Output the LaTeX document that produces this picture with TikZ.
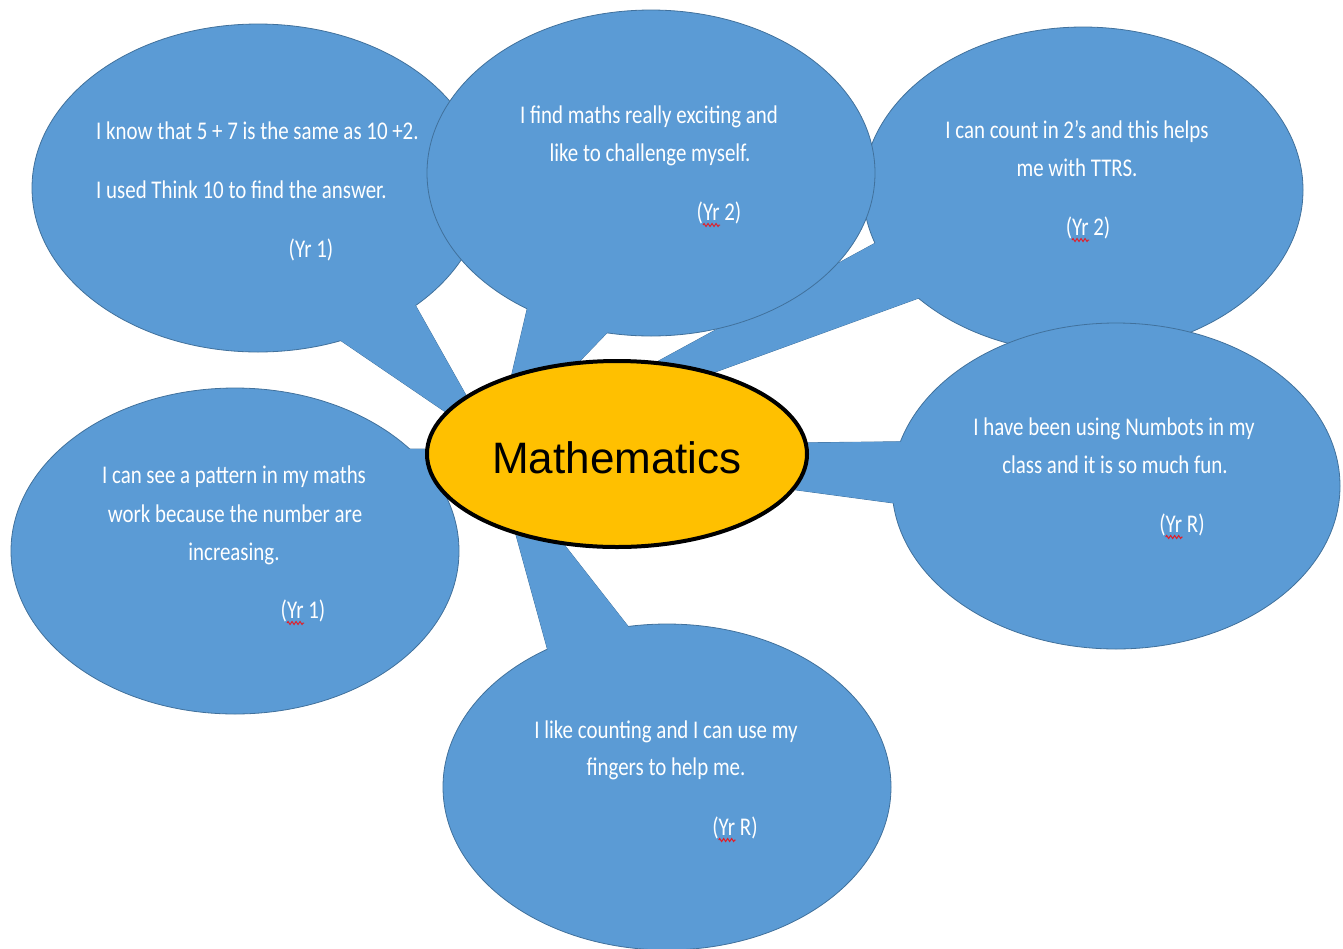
\documentclass[tikz,border=0pt]{standalone}
\usepackage{fontspec}
\usetikzlibrary{shapes.geometric,calc,decorations.pathmorphing}
\newfontfamily\bubfont[FakeStretch=0.82]{Carlito}
\newfontfamily\titfont{Liberation Sans}
\definecolor{bub}{HTML}{5B9BD5}
\definecolor{bubedge}{HTML}{41719C}
\definecolor{gold}{HTML}{FFC000}
\definecolor{squigred}{HTML}{E0202A}
\tikzset{
  bubble/.style={ellipse, fill=bub, draw=bubedge, line width=0.8pt,
    minimum width=448pt, minimum height=326pt, inner sep=0pt},
  tailedge/.style={fill=bub, draw=bubedge, line width=0.8pt, line join=round},
  tailfill/.style={fill=bub},
  txt/.style={text=white, font=\bubfont\fontsize{25.5}{30}\selectfont,
    inner sep=0pt, anchor=base},
  txtl/.style={txt, anchor=base west},
  squig/.style={draw=squigred, line width=1pt, decorate,
    decoration={zigzag, segment length=4pt, amplitude=1.5pt}},
  hub/.style={ellipse, fill=gold, draw=black, line width=4pt,
    minimum width=380pt, minimum height=186pt, inner sep=0pt,
    font=\titfont\fontsize{44}{50}\selectfont, text height=39pt, text depth=0pt}
}
\begin{document}
\begin{tikzpicture}[x=1pt,y=-1pt]
\useasboundingbox (0,0) rectangle (1343,948);

% ---------- top-left bubble ----------
\coordinate (tlA) at (293,308);
\coordinate (tlB) at (391,262);
\coordinate (tlT) at (494,445);
\path[tailedge] (tlA) -- (tlB) -- (tlT) -- cycle;
\node[bubble, minimum width=452pt, minimum height=328pt] (tl) at (258,188) {};
\fill[tailfill] (tlA) -- (tlB) -- (tlT) -- cycle;
\node[txtl] (tl1) at (96,139) {I know that 5 + 7 is the same as 10 +2.};
\node[txtl] (tl2) at (96,198) {I used Think 10 to find the answer.};
\node[txt] (tl3) at (311,257) {(Yr 1)};

% ---------- top-right bubble ----------
\coordinate (trA) at (993,179);
\coordinate (trB) at (1029,258);
\coordinate (trT) at (484,456);
\path[tailedge] (trA) -- (trB) -- (trT) -- cycle;
\node[bubble, minimum width=440pt] (tr) at (1083,190) {};
\fill[tailfill] (trA) -- (trB) -- (trT) -- cycle;
\node[txt] (tr1) at (1077,138) {I can count in 2’s and this helps};
\node[txt] (tr2) at (1077,176) {me with TTRS.};
\node[txt] (tr3) at (1088,235) {(Yr 2)};
\draw[squig] ($(tr3.base west)+(6.5,5)$) -- ++(17,0);

% ---------- top-middle bubble ----------
\coordinate (tmA) at (541,250);
\coordinate (tmB) at (655,283);
\coordinate (tmT) at (494,450);
\path[tailedge] (tmA) -- (tmB) -- (tmT) -- cycle;
\node[bubble] (tm) at (651,173) {};
\fill[tailfill] (tmA) -- (tmB) -- (tmT) -- cycle;
\node[txt] (tm1) at (649,123) {I find maths really exciting and};
\node[txt] (tm2) at (650,161) {like to challenge myself.};
\node[txt] (tm3) at (719,220) {(Yr 2)};
\draw[squig] ($(tm3.base west)+(6.5,5)$) -- ++(17,0);

% ---------- right-middle bubble ----------
\coordinate (rmA) at (960,441);
\coordinate (rmB) at (960,512);
\coordinate (rmC) at (700,477);
\coordinate (rmD) at (700,444);
\path[tailedge] (rmA) -- (rmB) -- (rmC) -- (rmD) -- cycle;
\node[bubble] (rm) at (1116,486) {};
\fill[tailfill] (rmA) -- (rmB) -- (rmC) -- (rmD) -- cycle;
\node[txt] (rm1) at (1114,435) {I have been using Numbots in my};
\node[txt] (rm2) at (1115,473) {class and it is so much fun.};
\node[txt] (rm3) at (1182,532) {(Yr R)};
\draw[squig] ($(rm3.base west)+(6.5,5)$) -- ++(17,0);

% ---------- left-middle bubble ----------
\coordinate (lmA) at (380,449);
\coordinate (lmB) at (560,449);
\coordinate (lmC) at (560,480);
\coordinate (lmD) at (420,480);
\path[tailedge] (lmA) -- (lmB) -- (lmC) -- (lmD) -- cycle;
\node[bubble] (lm) at (235,551) {};
\fill[tailfill] (lmA) -- (lmB) -- (lmC) -- (lmD) -- cycle;
\node[txt] (lm1) at (234,483) {I can see a pattern in my maths};
\node[txt] (lm2) at (235,522) {work because the number are};
\node[txt] (lm3) at (234,560) {increasing.};
\node[txt] (lm4) at (303,618) {(Yr 1)};
\draw[squig] ($(lm4.base west)+(6.5,5)$) -- ++(17,0);

% ---------- bottom bubble ----------
\coordinate (bA) at (565,713);
\coordinate (bB) at (663,671);
\coordinate (bT) at (494,455);
\path[tailedge] (bA) -- (bB) -- (bT) -- cycle;
\node[bubble] (bt) at (667,787) {};
\fill[tailfill] (bA) -- (bB) -- (bT) -- cycle;
\node[txt] (bt1) at (666,738) {I like counting and I can use my};
\node[txt] (bt2) at (666,775) {fingers to help me.};
\node[txt] (bt3) at (735,835) {(Yr R)};
\draw[squig] ($(bt3.base west)+(6.5,5)$) -- ++(17,0);

% ---------- centre ----------
\node[hub] (hubn) at (617,454) {Mathematics};
\end{tikzpicture}
\end{document}
